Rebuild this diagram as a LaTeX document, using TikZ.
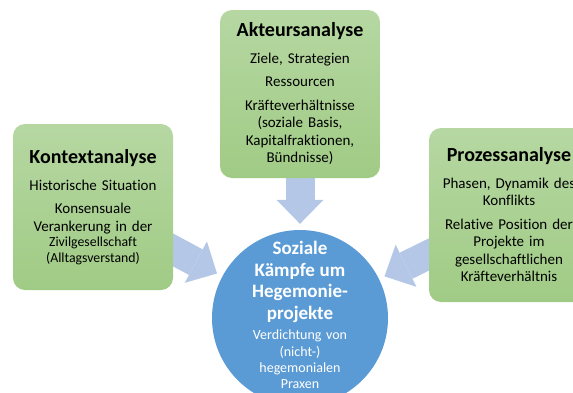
\documentclass[tikz,border=0pt]{standalone}
\usepackage{fontspec}
\setmainfont{Carlito}[Ligatures=NoCommon]
\usepackage{tikz}
\usetikzlibrary{arrows.meta, backgrounds}

\definecolor{boxtop}{RGB}{182,215,162}
\definecolor{boxbottom}{RGB}{160,203,133}
\definecolor{kampfblue}{RGB}{91,155,213}
\definecolor{pfeilblue}{RGB}{180,199,231}

\newcommand{\boxtitel}[1]{{\fontsize{20}{22}\selectfont\bfseries #1\par}\vspace{9pt}}

\begin{document}
\begin{tikzpicture}[x=1pt, y=-1pt,
  analysebox/.style={rounded corners=12pt, top color=boxtop, bottom color=boxbottom,
    minimum width=160pt, text width=150pt, align=center, inner sep=0pt,
    font=\fontsize{15}{17.5}\selectfont},
  kampfkreis/.style={circle, fill=kampfblue, minimum size=176pt, inner sep=0pt},
  kampftext/.style={text=white, text width=140pt, align=center, inner sep=0pt,
    font=\fontsize{14}{16.3}\selectfont},
  pfeil/.style={draw=pfeilblue, line width=29pt,
    -{Triangle[length=24pt, width=47pt, line width=0pt]}, shorten >=6pt}]

\useasboundingbox (0,0) rectangle (573,392);
\clip (0,0) rectangle (573,392);

\node[analysebox, minimum height=166pt] (kontext) at (93,207) {
  \boxtitel{Kontextanalyse}
  Historische Situation\par\vspace{6pt}
  Konsensuale\\ Verankerung in der\par
  {\fontsize{13.8}{15.5}\selectfont Zivilgesellschaft\\ (Alltagsverstand)\par}};

\node[analysebox, minimum height=168pt] (akteur) at (300,94) {
  \boxtitel{Akteursanalyse}
  Ziele, Strategien\par\vspace{6pt}
  Ressourcen\par\vspace{6pt}
  Kräfteverhältnisse\\ (soziale Basis,\\ Kapitalfraktionen,\\ Bündnisse)};

\node[analysebox, minimum height=174pt] (prozess) at (509,215) {
  \boxtitel{Prozessanalyse}
  Phasen, Dynamik des\\ Konflikts\par\vspace{6pt}
  Relative Position der\\ Projekte im\\ gesellschaftlichen\\ Kräfteverhältnis};

\node[kampfkreis] (kampf) at (300,318) {};
\node[kampftext] (kampftitel) at (300,315) {
  {\fontsize{19}{21.7}\selectfont\bfseries Soziale\\ Kämpfe um\\ Hegemonie-\\ projekte\par}\vspace{4pt}
  Verdichtung von\\ (nicht-)\\ hegemonialen\\ Praxen};

\begin{scope}[on background layer]
\draw[pfeil] (akteur.center) -- (kampf);
\draw[pfeil] (kontext.center) -- (kampf);
\draw[pfeil] (prozess.center) -- (kampf);
\end{scope}

\end{tikzpicture}
\end{document}
